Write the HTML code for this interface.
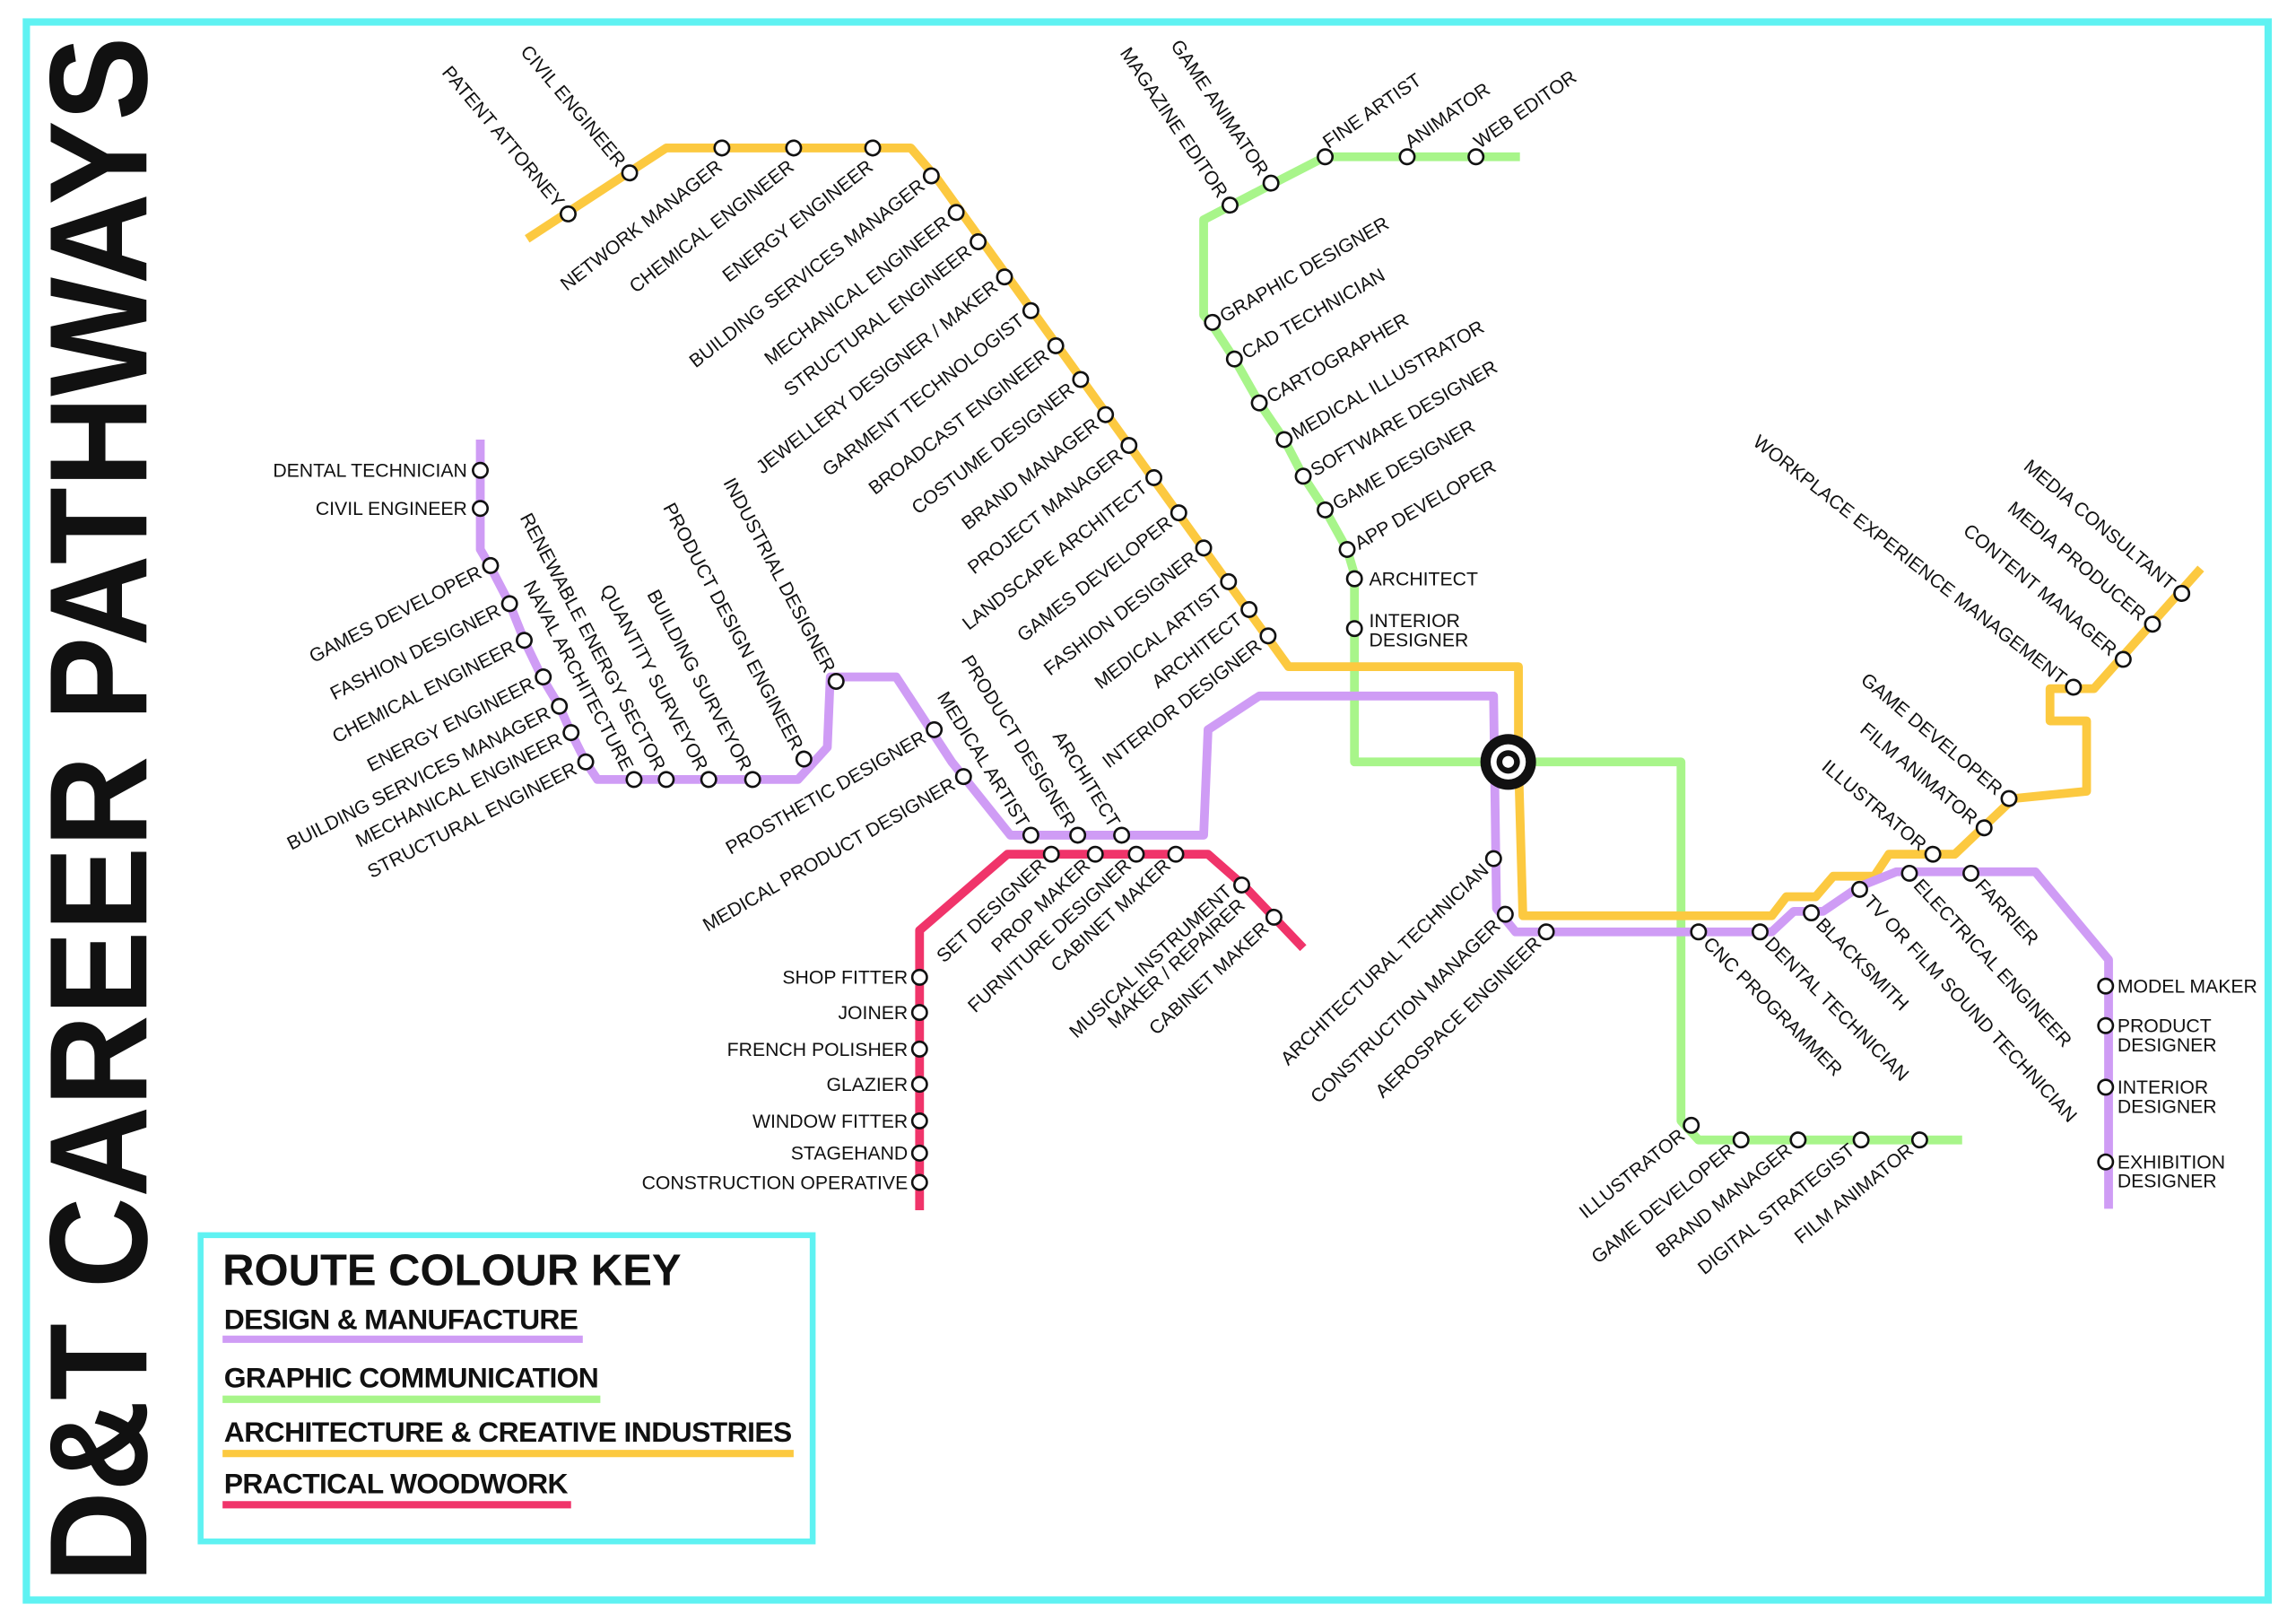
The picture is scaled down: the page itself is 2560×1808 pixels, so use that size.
<!DOCTYPE html>
<html><head><meta charset="utf-8"><style>
html,body{margin:0;padding:0;background:#fff;width:2560px;height:1808px;overflow:hidden}
svg{display:block}
text{font-family:"Liberation Sans",Arial,sans-serif;font-size:13px;fill:#111}
.st{fill:#fff;stroke:#111;stroke-width:1.6}
.ln{fill:none;stroke-width:6;stroke-linejoin:round;stroke-linecap:butt}
.k{font-size:19.5px;font-weight:bold}
</style></head><body>
<svg width="2560" height="1808" viewBox="0 0 1568 1107" preserveAspectRatio="none" xmlns="http://www.w3.org/2000/svg">
<rect x="18" y="15" width="1531" height="1077" fill="none" stroke="#5ff2f2" stroke-width="5"/>
<text transform="translate(100,1080) rotate(-90)" style="font-size:95px;font-weight:bold" textLength="1055" lengthAdjust="spacingAndGlyphs">D&amp;T CAREER PATHWAYS</text>

<!-- key -->
<rect x="137" y="843" width="418" height="209" fill="none" stroke="#5ff2f2" stroke-width="4"/>
<text x="152" y="877" style="font-size:30px;font-weight:bold">ROUTE COLOUR KEY</text>
<text x="153" y="907" class="k" textLength="242">DESIGN &amp; MANUFACTURE</text>
<line x1="152" y1="914" x2="398" y2="914" stroke="#cf9cf5" stroke-width="5"/>
<text x="153" y="947" class="k" textLength="256">GRAPHIC COMMUNICATION</text>
<line x1="152" y1="955" x2="410" y2="955" stroke="#a8f58a" stroke-width="5"/>
<text x="153" y="984" class="k" textLength="388">ARCHITECTURE &amp; CREATIVE INDUSTRIES</text>
<line x1="152" y1="992" x2="542" y2="992" stroke="#fcc940" stroke-width="5"/>
<text x="153" y="1019" class="k" textLength="235">PRACTICAL WOODWORK</text>
<line x1="152" y1="1027" x2="390" y2="1027" stroke="#f0346a" stroke-width="5"/>

<!-- lines -->
<polyline class="ln" stroke="#a8f58a" points="1038,107 905,107 870,125 822,150 822,215 828,222 843,245 860,275 877,300 890,325 905,348 920,375 925,392 925,520 1148,520 1148,765 1160,778 1340,778"/>
<polyline class="ln" stroke="#fcc940" points="360,163 455,101 622,101 640,122 880,455 1037,455 1037,520 1040,625 1210,625 1220,612 1240,612 1252,598 1280,598 1290,583 1335,583 1375,545 1425,540 1425,492 1400,492 1400,470 1430,470 1503,388"/>
<polyline class="ln" stroke="#cf9cf5" points="328,300 328,375 335,387 348,412 358,437 370,462 382,482 390,500 400,520 408,532 545,532 565,510 567,462 612,462 650,520 690,570 822,570 825,498 860,475 1020,475 1022,620 1035,636 1210,636 1225,622 1245,622 1270,605 1295,595 1390,595 1440,655 1440,825"/>
<polyline class="ln" stroke="#f0346a" points="628,826 628,635 688,583 825,583 850,605 890,647"/>

<!-- interchange -->
<circle cx="1030" cy="520" r="19" fill="#111"/>
<circle cx="1030" cy="520" r="12" fill="#fff"/>
<circle cx="1030" cy="520" r="8" fill="#111"/>
<circle cx="1030" cy="520" r="4" fill="#fff"/>

<g id="s">
<!-- yellow top -->
<g transform="translate(388,146) rotate(50)"><circle class="st" r="5"/><text x="-8" y="4.5" text-anchor="end">PATENT ATTORNEY</text></g>
<g transform="translate(430,118) rotate(50)"><circle class="st" r="5"/><text x="-8" y="4.5" text-anchor="end">CIVIL ENGINEER</text></g>
<g transform="translate(493,101) rotate(-38)"><circle class="st" r="5"/><text x="-8" y="12" text-anchor="end">NETWORK MANAGER</text></g>
<g transform="translate(542,101) rotate(-38)"><circle class="st" r="5"/><text x="-8" y="12" text-anchor="end">CHEMICAL ENGINEER</text></g>
<g transform="translate(596,101) rotate(-38)"><circle class="st" r="5"/><text x="-8" y="12" text-anchor="end">ENERGY ENGINEER</text></g>
<g transform="translate(636,120) rotate(-38)"><circle class="st" r="5"/><text x="-8" y="4.5" text-anchor="end">BUILDING SERVICES MANAGER</text></g>
<g transform="translate(653,145) rotate(-38)"><circle class="st" r="5"/><text x="-8" y="4.5" text-anchor="end">MECHANICAL ENGINEER</text></g>
<g transform="translate(668,165) rotate(-38)"><circle class="st" r="5"/><text x="-8" y="4.5" text-anchor="end">STRUCTURAL ENGINEER</text></g>
<g transform="translate(686,189) rotate(-38)"><circle class="st" r="5"/><text x="-8" y="4.5" text-anchor="end">JEWELLERY DESIGNER / MAKER</text></g>
<g transform="translate(704,212) rotate(-38)"><circle class="st" r="5"/><text x="-8" y="4.5" text-anchor="end">GARMENT TECHNOLOGIST</text></g>
<g transform="translate(721,236) rotate(-38)"><circle class="st" r="5"/><text x="-8" y="4.5" text-anchor="end">BROADCAST ENGINEER</text></g>
<g transform="translate(738,259) rotate(-38)"><circle class="st" r="5"/><text x="-8" y="4.5" text-anchor="end">COSTUME DESIGNER</text></g>
<g transform="translate(755,283) rotate(-38)"><circle class="st" r="5"/><text x="-8" y="4.5" text-anchor="end">BRAND MANAGER</text></g>
<g transform="translate(771,304) rotate(-38)"><circle class="st" r="5"/><text x="-8" y="4.5" text-anchor="end">PROJECT MANAGER</text></g>
<g transform="translate(788,326) rotate(-38)"><circle class="st" r="5"/><text x="-8" y="4.5" text-anchor="end">LANDSCAPE ARCHITECT</text></g>
<g transform="translate(805,350) rotate(-38)"><circle class="st" r="5"/><text x="-8" y="4.5" text-anchor="end">GAMES DEVELOPER</text></g>
<g transform="translate(822,374) rotate(-38)"><circle class="st" r="5"/><text x="-8" y="4.5" text-anchor="end">FASHION DESIGNER</text></g>
<g transform="translate(839,397) rotate(-38)"><circle class="st" r="5"/><text x="-8" y="4.5" text-anchor="end">MEDICAL ARTIST</text></g>
<g transform="translate(853,416) rotate(-38)"><circle class="st" r="5"/><text x="-8" y="4.5" text-anchor="end">ARCHITECT</text></g>
<g transform="translate(866,434) rotate(-38)"><circle class="st" r="5"/><text x="-8" y="4.5" text-anchor="end">INTERIOR DESIGNER</text></g>

<!-- green top -->
<g transform="translate(840,140) rotate(56)"><circle class="st" r="5"/><text x="-8" y="4.5" text-anchor="end">MAGAZINE EDITOR</text></g>
<g transform="translate(868,125) rotate(56)"><circle class="st" r="5"/><text x="-8" y="4.5" text-anchor="end">GAME ANIMATOR</text></g>
<g transform="translate(905,107) rotate(-35)"><circle class="st" r="5"/><text x="5" y="-3" >FINE ARTIST</text></g>
<g transform="translate(961,107) rotate(-35)"><circle class="st" r="5"/><text x="5" y="-3">ANIMATOR</text></g>
<g transform="translate(1008,107) rotate(-35)"><circle class="st" r="5"/><text x="5" y="-3">WEB EDITOR</text></g>
<g transform="translate(828,220) rotate(-30)"><circle class="st" r="5"/><text x="7" y="4.5">GRAPHIC DESIGNER</text></g>
<g transform="translate(843,245) rotate(-30)"><circle class="st" r="5"/><text x="7" y="4.5">CAD TECHNICIAN</text></g>
<g transform="translate(860,275) rotate(-30)"><circle class="st" r="5"/><text x="7" y="4.5">CARTOGRAPHER</text></g>
<g transform="translate(877,300) rotate(-30)"><circle class="st" r="5"/><text x="7" y="4.5">MEDICAL ILLUSTRATOR</text></g>
<g transform="translate(890,325) rotate(-30)"><circle class="st" r="5"/><text x="7" y="4.5">SOFTWARE DESIGNER</text></g>
<g transform="translate(905,348) rotate(-30)"><circle class="st" r="5"/><text x="7" y="4.5">GAME DESIGNER</text></g>
<g transform="translate(920,375) rotate(-30)"><circle class="st" r="5"/><text x="7" y="4.5">APP DEVELOPER</text></g>
<g transform="translate(925,395)"><circle class="st" r="5"/><text x="10" y="4.5">ARCHITECT</text></g>
<g transform="translate(925,429)"><circle class="st" r="5"/><text x="10" y="-1">INTERIOR</text><text x="10" y="12">DESIGNER</text></g>

<!-- purple left -->
<g transform="translate(328,321)"><circle class="st" r="5"/><text x="-9" y="4.5" text-anchor="end">DENTAL TECHNICIAN</text></g>
<g transform="translate(328,347)"><circle class="st" r="5"/><text x="-9" y="4.5" text-anchor="end">CIVIL ENGINEER</text></g>
<g transform="translate(335,386) rotate(-27)"><circle class="st" r="5"/><text x="-8" y="4.5" text-anchor="end">GAMES DEVELOPER</text></g>
<g transform="translate(348,412) rotate(-27)"><circle class="st" r="5"/><text x="-8" y="4.5" text-anchor="end">FASHION DESIGNER</text></g>
<g transform="translate(358,437) rotate(-27)"><circle class="st" r="5"/><text x="-8" y="4.5" text-anchor="end">CHEMICAL ENGINEER</text></g>
<g transform="translate(371,462) rotate(-27)"><circle class="st" r="5"/><text x="-8" y="4.5" text-anchor="end">ENERGY ENGINEER</text></g>
<g transform="translate(382,482) rotate(-27)"><circle class="st" r="5"/><text x="-8" y="4.5" text-anchor="end">BUILDING SERVICES MANAGER</text></g>
<g transform="translate(390,500) rotate(-27)"><circle class="st" r="5"/><text x="-8" y="4.5" text-anchor="end">MECHANICAL ENGINEER</text></g>
<g transform="translate(400,520) rotate(-27)"><circle class="st" r="5"/><text x="-8" y="4.5" text-anchor="end">STRUCTURAL ENGINEER</text></g>
<g transform="translate(433,532) rotate(62)"><circle class="st" r="5"/><text x="-8" y="4.5" text-anchor="end">NAVAL ARCHITECTURE</text></g>
<g transform="translate(455,532) rotate(62)"><circle class="st" r="5"/><text x="-8" y="4.5" text-anchor="end">RENEWABLE ENERGY SECTOR</text></g>
<g transform="translate(484,532) rotate(62)"><circle class="st" r="5"/><text x="-8" y="4.5" text-anchor="end">QUANTITY SURVEYOR</text></g>
<g transform="translate(514,532) rotate(62)"><circle class="st" r="5"/><text x="-8" y="4.5" text-anchor="end">BUILDING SURVEYOR</text></g>
<g transform="translate(549,518) rotate(62)"><circle class="st" r="5"/><text x="-8" y="4.5" text-anchor="end">PRODUCT DESIGN ENGINEER</text></g>
<g transform="translate(571,465) rotate(62)"><circle class="st" r="5"/><text x="-8" y="4.5" text-anchor="end">INDUSTRIAL DESIGNER</text></g>
<g transform="translate(638,498) rotate(-30)"><circle class="st" r="5"/><text x="-8" y="4.5" text-anchor="end">PROSTHETIC DESIGNER</text></g>
<g transform="translate(658,530) rotate(-30)"><circle class="st" r="5"/><text x="-8" y="4.5" text-anchor="end">MEDICAL PRODUCT DESIGNER</text></g>
<g transform="translate(704,570) rotate(58)"><circle class="st" r="5"/><text x="-8" y="4.5" text-anchor="end">MEDICAL ARTIST</text></g>
<g transform="translate(736,570) rotate(58)"><circle class="st" r="5"/><text x="-8" y="4.5" text-anchor="end">PRODUCT DESIGNER</text></g>
<g transform="translate(766,570) rotate(58)"><circle class="st" r="5"/><text x="-8" y="4.5" text-anchor="end">ARCHITECT</text></g>

<!-- red -->
<g transform="translate(718,583) rotate(-43)"><circle class="st" r="5"/><text x="-8" y="4.5" text-anchor="end">SET DESIGNER</text></g>
<g transform="translate(748,583) rotate(-43)"><circle class="st" r="5"/><text x="-8" y="4.5" text-anchor="end">PROP MAKER</text></g>
<g transform="translate(776,583) rotate(-43)"><circle class="st" r="5"/><text x="-8" y="4.5" text-anchor="end">FURNITURE DESIGNER</text></g>
<g transform="translate(803,583) rotate(-43)"><circle class="st" r="5"/><text x="-8" y="4.5" text-anchor="end">CABINET MAKER</text></g>
<g transform="translate(848,604) rotate(-43)"><circle class="st" r="5"/><text x="-8" y="0" text-anchor="end">MUSICAL INSTRUMENT</text><text x="-8" y="13" text-anchor="end">MAKER / REPAIRER</text></g>
<g transform="translate(870,626) rotate(-43)"><circle class="st" r="5"/><text x="-8" y="4.5" text-anchor="end">CABINET MAKER</text></g>
<g transform="translate(628,667)"><circle class="st" r="5"/><text x="-8" y="4.5" text-anchor="end">SHOP FITTER</text></g>
<g transform="translate(628,691)"><circle class="st" r="5"/><text x="-8" y="4.5" text-anchor="end">JOINER</text></g>
<g transform="translate(628,716)"><circle class="st" r="5"/><text x="-8" y="4.5" text-anchor="end">FRENCH POLISHER</text></g>
<g transform="translate(628,740)"><circle class="st" r="5"/><text x="-8" y="4.5" text-anchor="end">GLAZIER</text></g>
<g transform="translate(628,765)"><circle class="st" r="5"/><text x="-8" y="4.5" text-anchor="end">WINDOW FITTER</text></g>
<g transform="translate(628,787)"><circle class="st" r="5"/><text x="-8" y="4.5" text-anchor="end">STAGEHAND</text></g>
<g transform="translate(628,807)"><circle class="st" r="5"/><text x="-8" y="4.5" text-anchor="end">CONSTRUCTION OPERATIVE</text></g>

<!-- purple right -->
<g transform="translate(1020,586) rotate(-44)"><circle class="st" r="5"/><text x="-8" y="4.5" text-anchor="end">ARCHITECTURAL TECHNICIAN</text></g>
<g transform="translate(1028,624) rotate(-44)"><circle class="st" r="5"/><text x="-8" y="4.5" text-anchor="end">CONSTRUCTION MANAGER</text></g>
<g transform="translate(1056,636) rotate(-44)"><circle class="st" r="5"/><text x="-8" y="4.5" text-anchor="end">AEROSPACE ENGINEER</text></g>
<g transform="translate(1160,636) rotate(45)"><circle class="st" r="5"/><text x="8" y="4.5">CNC PROGRAMMER</text></g>
<g transform="translate(1202,636) rotate(45)"><circle class="st" r="5"/><text x="8" y="4.5">DENTAL TECHNICIAN</text></g>
<g transform="translate(1237,623) rotate(45)"><circle class="st" r="5"/><text x="8" y="4.5">BLACKSMITH</text></g>
<g transform="translate(1270,607) rotate(47)"><circle class="st" r="5"/><text x="8" y="4.5">TV OR FILM SOUND TECHNICIAN</text></g>
<g transform="translate(1304,596) rotate(47)"><circle class="st" r="5"/><text x="8" y="4.5">ELECTRICAL ENGINEER</text></g>
<g transform="translate(1346,596) rotate(47)"><circle class="st" r="5"/><text x="8" y="4.5">FARRIER</text></g>
<g transform="translate(1438,673)"><circle class="st" r="5"/><text x="8" y="4.5">MODEL MAKER</text></g>
<g transform="translate(1438,700)"><circle class="st" r="5"/><text x="8" y="4.5">PRODUCT</text><text x="8" y="17.5">DESIGNER</text></g>
<g transform="translate(1438,742)"><circle class="st" r="5"/><text x="8" y="4.5">INTERIOR</text><text x="8" y="17.5">DESIGNER</text></g>
<g transform="translate(1438,793)"><circle class="st" r="5"/><text x="8" y="4.5">EXHIBITION</text><text x="8" y="17.5">DESIGNER</text></g>

<!-- yellow right -->
<g transform="translate(1320,583) rotate(40)"><circle class="st" r="5"/><text x="-8" y="4.5" text-anchor="end">ILLUSTRATOR</text></g>
<g transform="translate(1355,565) rotate(40)"><circle class="st" r="5"/><text x="-8" y="4.5" text-anchor="end">FILM ANIMATOR</text></g>
<g transform="translate(1372,545) rotate(40)"><circle class="st" r="5"/><text x="-8" y="4.5" text-anchor="end">GAME DEVELOPER</text></g>
<g transform="translate(1416,469) rotate(38)"><circle class="st" r="5"/><text x="-8" y="4.5" text-anchor="end">WORKPLACE EXPERIENCE MANAGEMENT</text></g>
<g transform="translate(1450,450) rotate(40)"><circle class="st" r="5"/><text x="-8" y="4.5" text-anchor="end">CONTENT MANAGER</text></g>
<g transform="translate(1470,426) rotate(40)"><circle class="st" r="5"/><text x="-8" y="4.5" text-anchor="end">MEDIA PRODUCER</text></g>
<g transform="translate(1490,405) rotate(40)"><circle class="st" r="5"/><text x="-8" y="4.5" text-anchor="end">MEDIA CONSULTANT</text></g>

<!-- green bottom -->
<g transform="translate(1155,768) rotate(-39)"><circle class="st" r="5"/><text x="-8" y="4.5" text-anchor="end">ILLUSTRATOR</text></g>
<g transform="translate(1189,778) rotate(-39)"><circle class="st" r="5"/><text x="-8" y="4.5" text-anchor="end">GAME DEVELOPER</text></g>
<g transform="translate(1228,778) rotate(-39)"><circle class="st" r="5"/><text x="-8" y="4.5" text-anchor="end">BRAND MANAGER</text></g>
<g transform="translate(1271,778) rotate(-39)"><circle class="st" r="5"/><text x="-8" y="4.5" text-anchor="end">DIGITAL STRATEGIST</text></g>
<g transform="translate(1311,778) rotate(-39)"><circle class="st" r="5"/><text x="-8" y="4.5" text-anchor="end">FILM ANIMATOR</text></g>
</g>
</svg>
</body></html>
